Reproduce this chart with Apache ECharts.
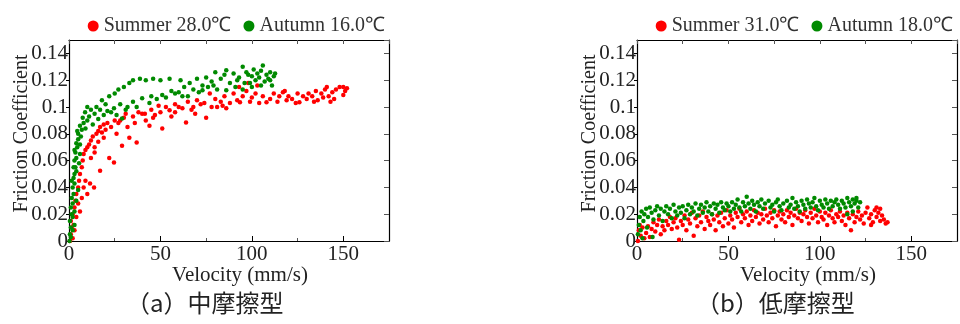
<!DOCTYPE html>
<html><head><meta charset="utf-8">
<script src="https://cdn.jsdelivr.net/npm/echarts@6/dist/echarts.min.js"></script>
<style>html,body{margin:0;padding:0;background:#fff}#c{width:960px;height:324px}</style>
</head><body><div id="c"></div>
<script>
// ---- data: [velocity (mm/s), friction coefficient] ----
const panelTitles = ['（a）中摩擦型', '（b）低摩擦型'];
const seriesNames = ['Summer 28.0℃', 'Autumn 16.0℃', 'Summer 31.0℃', 'Autumn 18.0℃'];
const xTicks = [0, 50, 100, 150];
const yTicks = [0, 0.02, 0.04, 0.06, 0.08, 0.1, 0.12, 0.14];

const midSummer = [[0.5,0],[1,0.005],[1.5,0.01],[2,0.002],[1,0.015],[2,0.02],[2.5,0.012],[3,0.025],[3,0.008],[3.5,0.03],[4,0.018],[4,0.035],[5,0.04],[5,0.028],[5.5,0.045],[6,0.05],[6,0.022],[7,0.055],[7,0.032],[7.5,0.06],[8,0.065],[8,0.04],[9,0.068],[9,0.045],[10,0.07],[10,0.035],[11,0.072],[11.5,0.043],[12,0.075],[12,0.062],[13,0.078],[13.7,0.04],[14,0.07],[15,0.08],[16,0.082],[16,0.074],[17,0.0525],[17,0.085],[18,0.081],[19,0.087],[20,0.083],[21,0.088],[22,0.062],[23,0.085],[24.6,0.0585],[25,0.09],[27,0.088],[28,0.09],[29,0.071],[30,0.092],[31,0.095],[32,0.085],[33,0.077],[35,0.093],[37,0.0735],[38,0.096],[40,0.095],[41.5,0.095],[42,0.09],[44,0.086],[45,0.098],[47,0.094],[49,0.101],[50,0.096],[51,0.084],[53,0.1],[55,0.0975],[56,0.093],[58,0.102],[60,0.1],[62,0.099],[64,0.0885],[65,0.104],[67,0.098],[69,0.095],[70,0.105],[72,0.102],[74,0.103],[75,0.092],[77,0.11],[78,0.1],[80,0.106],[81,0.1],[83,0.104],[85,0.108],[86,0.099],[88,0.103],[90,0.11],[92,0.105],[93.5,0.1035],[93,0.115],[95,0.108],[97,0.112],[98,0.118],[99,0.104],[100,0.107],[102,0.11],[103,0.116],[104,0.103],[106,0.108],[108,0.1035],[110,0.106],[112,0.11],[114,0.104],[115,0.108],[117,0.111],[119,0.105],[120,0.108],[122,0.106],[124,0.103],[126,0.1035],[128,0.108],[130,0.106],[131,0.11],[133,0.108],[135,0.112],[136,0.105],[138,0.11],[139,0.107],[140,0.113],[141,0.115],[142,0.108],[144,0.111],[145,0.106],[146,0.113],[148,0.115],[150,0.109],[151,0.112],[152,0.114],[150,0.115],[14,0.066],[19,0.077],[26,0.08],[36,0.088],[46,0.092],[58,0.096],[68,0.1],[84,0.101],[118,0.112],[125,0.11],[134,0.104],[143,0.104]];

const midAutumn = [[0.3,0],[0.5,0.005],[1,0.01],[0.5,0.015],[1.5,0.02],[1,0.025],[2,0.028],[1.5,0.032],[2.5,0.035],[2,0.04],[3,0.043],[2.5,0.047],[3,0.05],[3.5,0.055],[3,0.06],[4,0.062],[3.5,0.066],[4.5,0.07],[4,0.073],[5,0.076],[5,0.08],[1,0.003],[2,0.008],[3,0.012],[2,0.018],[3,0.022],[4,0.03],[5,0.038],[4,0.052],[5.5,0.058],[6,0.065],[6,0.072],[6.5,0.078],[7,0.083],[6,0.086],[8,0.088],[8.8,0.096],[9,0.084],[10,0.09],[11,0.093],[12,0.098],[13,0.087],[14,0.095],[15,0.1],[16,0.091],[17,0.098],[18,0.105],[19,0.094],[20,0.102],[22,0.108],[23,0.096],[24.6,0.099],[25,0.11],[27,0.113],[28,0.102],[29,0.0915],[30,0.115],[31,0.098],[33,0.118],[35,0.12],[35,0.104],[37,0.1],[38.8,0.121],[40,0.1065],[42,0.12],[44,0.103],[46,0.121],[48,0.106],[50,0.12],[51,0.109],[53,0.107],[55,0.121],[56,0.112],[58,0.11],[60,0.111],[61,0.12],[63,0.115],[65,0.108],[66,0.118],[68,0.113],[70,0.121],[71,0.111],[73,0.116],[73,0.1125],[75,0.122],[76,0.115],[78,0.119],[80,0.126],[81,0.113],[83,0.121],[85,0.124],[86,0.1275],[86,0.1125],[88,0.118],[90,0.125],[91,0.115],[93,0.122],[95,0.13],[96,0.118],[97,0.126],[99,0.118],[100,0.123],[101,0.128],[102,0.12],[103,0.125],[104,0.122],[105,0.127],[106,0.131],[107,0.119],[108,0.124],[109,0.121],[110,0.126],[111,0.116],[112,0.123],[112.7,0.125],[110,0.12],[105,0.116],[100,0.115],[95,0.113],[1.5,0.045],[2.5,0.055],[3,0.068],[4.5,0.082],[7.5,0.092],[10,0.1],[21,0.097],[26,0.094],[32,0.1],[45,0.108],[62,0.108],[79,0.116],[92,0.12],[98,0.124]];

const lowSummer = [[0.5,0],[1,0.008],[1.5,0.012],[2,0.004],[3,0.01],[4,0.002],[5,0.006],[6,0.011],[7,0.003],[8,0.009],[9,0.014],[10,0.007],[11,0.012],[12,0.016],[13,0.005],[14,0.011],[15,0.008],[16,0.015],[17,0.012],[18,0.018],[19,0.009],[20,0.014],[21,0.017],[22,0.01],[23,0.001],[24,0.015],[25,0.012],[26,0.019],[27,0.008],[28,0.016],[29,0.013],[30,0.021],[31,0.004],[32,0.017],[33,0.011],[34,0.019],[35,0.014],[36,0.022],[37,0.009],[38,0.018],[39,0.015],[40,0.012],[41,0.02],[42,0.016],[43,0.008],[44,0.019],[45,0.014],[46,0.021],[47,0.011],[48,0.017],[49,0.023],[50,0.013],[51,0.019],[52,0.016],[53,0.01],[54,0.021],[55,0.018],[56,0.024],[57,0.014],[58,0.02],[59,0.017],[60,0.022],[61,0.012],[62,0.019],[63,0.015],[64,0.023],[65,0.018],[66,0.021],[67,0.013],[68,0.02],[69,0.016],[70,0.024],[71,0.019],[72,0.014],[73,0.021],[74,0.017],[75,0.023],[76,0.011],[77,0.019],[78,0.022],[79,0.016],[80,0.02],[81,0.014],[82,0.023],[83,0.018],[84,0.021],[85,0.012],[86,0.019],[87,0.024],[88,0.017],[89,0.021],[90,0.015],[91,0.02],[92,0.023],[93,0.018],[94,0.013],[95,0.021],[96,0.017],[97,0.024],[98,0.019],[99,0.014],[100,0.022],[101,0.018],[102,0.016],[103,0.021],[104,0.012],[105,0.019],[106,0.023],[107,0.017],[108,0.014],[109,0.02],[110,0.018],[111,0.022],[112,0.015],[113,0.019],[114,0.012],[115,0.021],[116,0.017],[117,0.008],[118,0.02],[119,0.014],[120,0.018],[121,0.022],[122,0.016],[123,0.019],[124,0.013],[125,0.021],[126,0.025],[127,0.017],[128,0.02],[129,0.014],[130,0.023],[131,0.018],[132,0.021],[133,0.015],[134,0.019],[135,0.016],[136,0.013],[137,0.014],[131,0.025],[133,0.024],[128,0.012]];

const lowAutumn = [[0.5,0.005],[1,0.012],[1.5,0.018],[2,0.008],[2.5,0.022],[3,0.002],[3.5,0.015],[4,0.02],[5,0.024],[5.5,0.01],[6,0.018],[7,0.025],[8,0.021],[8.5,0.003],[9,0.016],[10,0.023],[11,0.026],[12,0.019],[13,0.024],[14,0.015],[15,0.022],[16,0.026],[17,0.02],[18,0.024],[19,0.017],[20,0.027],[21,0.022],[22,0.019],[23,0.025],[24,0.021],[25,0.026],[26,0.017],[27,0.023],[28,0.027],[29,0.02],[30,0.025],[31,0.022],[32,0.028],[33,0.019],[34,0.024],[35,0.027],[36,0.021],[37,0.025],[38,0.029],[39,0.022],[40,0.026],[41,0.02],[42,0.028],[43,0.024],[44,0.027],[45,0.021],[46,0.029],[47,0.025],[48,0.023],[49,0.028],[50,0.026],[51,0.022],[52,0.029],[53,0.024],[54,0.027],[55,0.031],[56,0.025],[57,0.022],[58,0.029],[59,0.026],[60,0.033],[61,0.028],[62,0.024],[63,0.03],[64,0.027],[65,0.022],[66,0.029],[67,0.026],[68,0.031],[69,0.024],[70,0.028],[72,0.03],[73,0.025],[74,0.027],[75,0.022],[76,0.029],[77,0.031],[78,0.026],[79,0.023],[80,0.028],[82,0.03],[83,0.025],[84,0.027],[85,0.032],[86,0.024],[87,0.029],[88,0.026],[89,0.022],[90,0.03],[91,0.027],[92,0.024],[93,0.031],[94,0.028],[95,0.025],[96,0.029],[97,0.032],[98,0.026],[99,0.023],[100,0.03],[101,0.027],[102,0.025],[103,0.031],[104,0.028],[105,0.024],[106,0.03],[107,0.026],[108,0.029],[109,0.031],[110,0.027],[111,0.024],[112,0.03],[113,0.028],[114,0.025],[115,0.032],[116,0.029],[117,0.026],[118,0.031],[119,0.028],[120,0.03],[121,0.025],[122,0.029],[118,0.022],[115,0.02],[120,0.032]];

const RED = '#ff0000', GREEN = '#008a00';
const SERIF = 'Liberation Serif';
const TXT = '#222';

const chart = echarts.init(document.getElementById('c'), null, {renderer: 'canvas'});
const grids = [
  {left: 69, top: 40, width: 320, height: 201, outerBoundsMode: 'none', containLabel: false},
  {left: 637, top: 40, width: 320, height: 201, outerBoundsMode: 'none', containLabel: false}
];
const xAxes = [], yAxes = [];
grids.forEach((g, i) => {
  xAxes.push({
    gridIndex: i, type: 'value', min: 0, max: 175, interval: 50, position: 'bottom',
    name: 'Velocity (mm/s)', nameLocation: 'middle', nameGap: 24, nameMoveOverlap: false,
    nameTextStyle: {fontFamily: SERIF, fontSize: 21, color: TXT, padding: [0, 0, 0, 22]},
    axisLine: {show: true, onZero: false, lineStyle: {color: '#000', width: 1.2}},
    axisTick: {show: true, inside: true, length: 5, lineStyle: {color: '#000'}},
    minorTick: {show: true, splitNumber: 2, length: 3, lineStyle: {color: '#555'}},
    axisLabel: {fontFamily: SERIF, fontSize: 21, color: TXT, margin: 3, customValues: xTicks},
    splitLine: {show: false}
  });
  xAxes.push({
    gridIndex: i, type: 'value', min: 0, max: 175, interval: 25, position: 'top',
    axisLine: {show: true, onZero: false, lineStyle: {color: '#000', width: 1.2}},
    axisTick: {show: true, inside: true, length: 4, lineStyle: {color: '#555'}},
    axisLabel: {show: false}, splitLine: {show: false}
  });
  yAxes.push({
    gridIndex: i, type: 'value', min: 0, max: 0.15, interval: 0.02, position: 'left',
    name: 'Friction Coefficient', nameLocation: 'middle', nameGap: 37, nameRotate: 90,
    nameMoveOverlap: false,
    nameTextStyle: {fontFamily: SERIF, fontSize: 20, color: TXT, padding: [0, 0, 0, 14]},
    axisLine: {show: true, onZero: false, lineStyle: {color: '#000', width: 1.2}},
    axisTick: {show: true, inside: false, length: 3, lineStyle: {color: '#000'}},
    axisLabel: {fontFamily: SERIF, fontSize: 21, color: TXT, margin: 1,
      formatter: v => String(+v.toFixed(2))},
    splitLine: {show: false}
  });
  yAxes.push({
    gridIndex: i, type: 'value', min: 0, max: 0.15, interval: 0.02, position: 'right',
    axisLine: {show: true, onZero: false, lineStyle: {color: '#000', width: 1.2}},
    axisTick: {show: true, inside: true, length: 5, lineStyle: {color: '#555'}},
    axisLabel: {show: false}, splitLine: {show: false}
  });
});

const dataSets = [midSummer, midAutumn, lowSummer, lowAutumn];
const series = dataSets.map((d, k) => ({
  name: seriesNames[k], type: 'scatter',
  xAxisIndex: Math.floor(k / 2) * 2, yAxisIndex: Math.floor(k / 2) * 2,
  data: d, symbolSize: 4.5, silent: true,
  itemStyle: {color: k % 2 === 0 ? RED : GREEN, opacity: 1}
}));

chart.setOption({
  animation: false,
  grid: grids,
  xAxis: xAxes,
  yAxis: yAxes,
  legend: [
    {data: [seriesNames[0], seriesNames[1]], right: 570, top: 11, icon: 'circle',
     itemWidth: 11, itemHeight: 11, itemGap: 12,
     textStyle: {fontFamily: SERIF, fontSize: 20, color: '#333'}},
    {data: [seriesNames[2], seriesNames[3]], right: 2, top: 11, icon: 'circle',
     itemWidth: 11, itemHeight: 11, itemGap: 12,
     textStyle: {fontFamily: SERIF, fontSize: 20, color: '#333'}}
  ],
  graphic: [
    {type: 'text', left: 126, top: 291, style: {text: panelTitles[0], fontFamily: '"Noto Sans CJK JP"', fontSize: 24, fill: '#222'}},
    {type: 'text', left: 696, top: 291, style: {text: panelTitles[1], fontFamily: '"Noto Sans CJK JP"', fontSize: 24, fill: '#222'}}
  ],
  series: series
});
</script></body></html>
